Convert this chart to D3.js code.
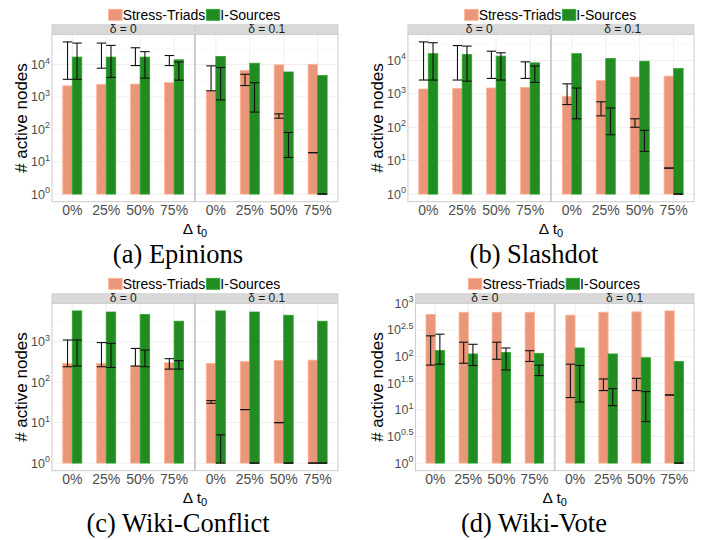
<!DOCTYPE html>
<html>
<head>
<meta charset="utf-8">
<script src="https://cdn.jsdelivr.net/npm/d3@7"></script>
<style>
  body { margin: 0; background: #fff; }
  svg { display: block; font-family: "Liberation Sans", Arial, sans-serif; }
</style>
</head>
<body>
<svg id="fig" width="712" height="540"></svg>
<script>
var shifts = ["0%", "25%", "50%", "75%"];
var deltas = ["δ = 0", "δ = 0.1"];
var seriesNames = ["Stress-Triads", "I-Sources"];
var seriesColors = ["#E9967A", "#228B22"];

// every array: the four shifts for δ = 0, then the four for δ = 0.1
var epinionsTriads    = [2200, 2450, 2500, 2750, 1550, 6500, 9800, 10200];
var epinionsTriadsLo  = [3500, 7700, 9300, 9300, 1550, 2250, 220, 19];
var epinionsTriadsHi  = [50000, 46000, 33000, 19000, 9100, 5000, 300, 19];
var epinionsSources   = [17000, 17000, 17000, 14000, 17800, 11000, 5900, 4600];
var epinionsSourcesLo = [3500, 4000, 3800, 3300, 810, 340, 13.5, 1];
var epinionsSourcesHi = [46000, 39000, 25000, 12000, 8100, 2750, 80, 1];

var slashdotTriads    = [1400, 1450, 1500, 1550, 850, 2500, 3200, 3400];
var slashdotTriadsLo  = [2600, 2600, 2900, 2900, 480, 220, 100, 6];
var slashdotTriadsHi  = [36000, 28000, 19000, 9100, 2000, 580, 180, 6];
var slashdotSources   = [16000, 15000, 13500, 8500, 16000, 11500, 9500, 5800];
var slashdotSourcesLo = [2600, 2400, 2600, 2200, 180, 60, 19, 1];
var slashdotSourcesHi = [34000, 27000, 17000, 6800, 1500, 380, 81, 1];

var conflictTriads    = [290, 290, 250, 300, 290, 320, 340, 350];
var conflictTriadsLo  = [240, 240, 250, 210, 30, 21, 10, 1];
var conflictTriadsHi  = [1100, 950, 680, 380, 35, 21, 10, 1];
var conflictSources   = [5750, 5400, 4700, 3200, 5750, 5400, 4500, 3200];
var conflictSourcesLo = [250, 230, 240, 210, 1, 1, 1, 1];
var conflictSourcesHi = [1100, 910, 620, 340, 5, 1, 1, 1];

var voteTriads    = [620, 680, 680, 680, 600, 680, 690, 720];
var voteTriadsLo  = [69, 75, 89, 81, 17, 23, 23, 19];
var voteTriadsHi  = [245, 186, 186, 129, 72, 38, 39, 19];
var voteSources   = [130, 112, 119, 115, 145, 112, 95, 81];
var voteSourcesLo = [72, 68, 56, 44, 14, 12, 6, 1];
var voteSourcesHi = [263, 170, 145, 69, 68, 25, 22, 1];

var datasets = [
  {caption: "(a) Epinions", step: 1, val: [epinionsTriads, epinionsSources],
   lo: [epinionsTriadsLo, epinionsSourcesLo], hi: [epinionsTriadsHi, epinionsSourcesHi]},
  {caption: "(b) Slashdot", step: 1, val: [slashdotTriads, slashdotSources],
   lo: [slashdotTriadsLo, slashdotSourcesLo], hi: [slashdotTriadsHi, slashdotSourcesHi]},
  {caption: "(c) Wiki-Conflict", step: 1, val: [conflictTriads, conflictSources],
   lo: [conflictTriadsLo, conflictSourcesLo], hi: [conflictTriadsHi, conflictSourcesHi]},
  {caption: "(d) Wiki-Vote", step: 0.5, val: [voteTriads, voteSources],
   lo: [voteTriadsLo, voteSourcesLo], hi: [voteTriadsHi, voteSourcesHi]}
];

var svg = d3.select("#fig");
var cellX = [0, 356, 0, 356], cellY = [0, 0, 269, 269];
var pTop = 34.3, pBottom = 201.7, pRight = 338, gap = 1, stripH = 9.5;

datasets.forEach(function(ds, di) {
  var g = svg.append("g").attr("transform", "translate(" + cellX[di] + "," + cellY[di] + ")");

  // log range of the data, then ggplot's 5% expansion
  var maxLog = d3.max([0, 1].map(function(s) {
    return d3.max(ds.val[s].concat(ds.hi[s]), function(v) { return Math.log10(v); });
  }));
  var pad = maxLog * 0.05;
  var y = d3.scaleLog().domain([Math.pow(10, -pad), Math.pow(10, maxLog + pad)]).range([pBottom, pTop]);

  var exps = d3.range(0, maxLog + pad + 1e-6, ds.step);
  var minors = d3.range(ds.step / 2, maxLog + pad, ds.step);

  // tick labels of 10^k decide where the panel starts
  var yt = g.append("g");
  exps.forEach(function(e) {
    var t = yt.append("text").attr("y", y(Math.pow(10, e)) + 4.5)
      .attr("text-anchor", "end").attr("fill", "#4d4d4d").style("font-size", "12.5px");
    t.append("tspan").text("10");
    t.append("tspan").attr("dy", -5.5).style("font-size", "9px").text(e);
  });
  var labW = d3.max(yt.selectAll("text").nodes(), function(n) { return n.getComputedTextLength(); });
  var left = Math.max(51.7, labW + 33);
  yt.selectAll("text").attr("x", left - 2);

  var facetW = (pRight - left - gap) / 2;
  var mid = (left + pRight) / 2;

  deltas.forEach(function(dl, fi) {
    var fx0 = left + fi * (facetW + gap);
    var x = d3.scalePoint().domain(shifts).range([fx0, fx0 + facetW]).padding(0.6);
    var bw = x.step() * 0.28;
    var fg = g.append("g");

    fg.append("rect").attr("x", fx0).attr("y", pTop).attr("width", facetW).attr("height", pBottom - pTop)
      .attr("fill", "#fff");

    fg.selectAll("line.minor").data(minors).enter().append("line")
      .attr("x1", fx0).attr("x2", fx0 + facetW)
      .attr("y1", function(e) { return y(Math.pow(10, e)); })
      .attr("y2", function(e) { return y(Math.pow(10, e)); })
      .attr("stroke", "#f7f7f7").attr("stroke-width", 0.6);
    fg.selectAll("line.major").data(exps).enter().append("line")
      .attr("x1", fx0).attr("x2", fx0 + facetW)
      .attr("y1", function(e) { return y(Math.pow(10, e)); })
      .attr("y2", function(e) { return y(Math.pow(10, e)); })
      .attr("stroke", "#efefef").attr("stroke-width", 1);
    fg.selectAll("line.vgrid").data(shifts).enter().append("line")
      .attr("x1", function(s) { return x(s); }).attr("x2", function(s) { return x(s); })
      .attr("y1", pTop).attr("y2", pBottom)
      .attr("stroke", "#efefef").attr("stroke-width", 1);

    // bars, salmon on the left of the category, green on the right
    [0, 1].forEach(function(s) {
      fg.selectAll("rect.b" + s).data(shifts).enter().append("rect")
        .attr("x", function(sh) { return x(sh) - bw + s * bw; })
        .attr("y", function(sh, i) { return y(ds.val[s][fi * 4 + i]); })
        .attr("width", bw)
        .attr("height", function(sh, i) { return y(1) - y(ds.val[s][fi * 4 + i]); })
        .attr("fill", seriesColors[s])
        .attr("stroke", d3.color(seriesColors[s]).brighter(0.5)).attr("stroke-width", 0.8);
    });

    // error bars
    [0, 1].forEach(function(s) {
      shifts.forEach(function(sh, i) {
        var cx = x(sh) - bw / 2 + s * bw;
        var y0 = y(ds.lo[s][fi * 4 + i]), y1 = y(ds.hi[s][fi * 4 + i]);
        var eg = fg.append("g").attr("stroke", "#111").attr("stroke-width", 1.1);
        eg.append("line").attr("x1", cx).attr("x2", cx).attr("y1", y0).attr("y2", y1);
        eg.append("line").attr("x1", cx - bw / 2).attr("x2", cx + bw / 2).attr("y1", y0).attr("y2", y0);
        eg.append("line").attr("x1", cx - bw / 2).attr("x2", cx + bw / 2).attr("y1", y1).attr("y2", y1);
      });
    });

    fg.append("rect").attr("x", fx0).attr("y", pTop).attr("width", facetW).attr("height", pBottom - pTop)
      .attr("fill", "none").attr("stroke", "#cccccc").attr("stroke-width", 1);

    // strip
    fg.append("rect").attr("x", fx0).attr("y", pTop - stripH).attr("width", facetW).attr("height", stripH)
      .attr("fill", "#d9d9d9").attr("stroke", "#cccccc").attr("stroke-width", 0.8);
    fg.append("text").attr("x", fx0 + facetW / 2).attr("y", pTop - 1.2)
      .attr("text-anchor", "middle").attr("fill", "#1a1a1a").style("font-size", "12px").text(dl);

    fg.selectAll("text.xt").data(shifts).enter().append("text")
      .attr("x", function(s) { return x(s); }).attr("y", 214.5)
      .attr("text-anchor", "middle").attr("fill", "#4d4d4d").style("font-size", "14px")
      .text(function(s) { return s; });
  });

  yt.raise();

  // legend on top, keys touching their labels
  var lg = g.append("g");
  var kx = 0;
  seriesNames.forEach(function(nm, s) {
    lg.append("rect").attr("x", kx).attr("y", 9.3).attr("width", 13.5).attr("height", 11)
      .attr("fill", seriesColors[s]).attr("stroke", d3.color(seriesColors[s]).brighter(0.5)).attr("stroke-width", 0.8);
    kx += 14;
    var t = lg.append("text").attr("x", kx).attr("y", 19.8).style("font-size", "14px").attr("fill", "#000").text(nm);
    kx += t.node().getComputedTextLength() + 1;
  });
  lg.attr("transform", "translate(" + (mid - kx / 2) + ",0)");

  // axis titles
  var xt = g.append("text").attr("x", mid).attr("y", 233.5).attr("text-anchor", "middle")
    .attr("fill", "#000").style("font-size", "15.5px");
  xt.append("tspan").text("Δ t");
  xt.append("tspan").attr("dy", 3).style("font-size", "11px").text("0");

  g.append("text").attr("transform", "translate(27," + ((pTop + pBottom) / 2) + ") rotate(-90)")
    .attr("text-anchor", "middle").attr("fill", "#000").style("font-size", "17px").text("# active nodes");

  g.append("text").attr("x", 178).attr("y", 263).attr("text-anchor", "middle")
    .style("font-family", "'Liberation Serif', 'Times New Roman', serif").style("font-size", "26.5px")
    .attr("fill", "#000").text(ds.caption);
});
</script>
</body>
</html>
